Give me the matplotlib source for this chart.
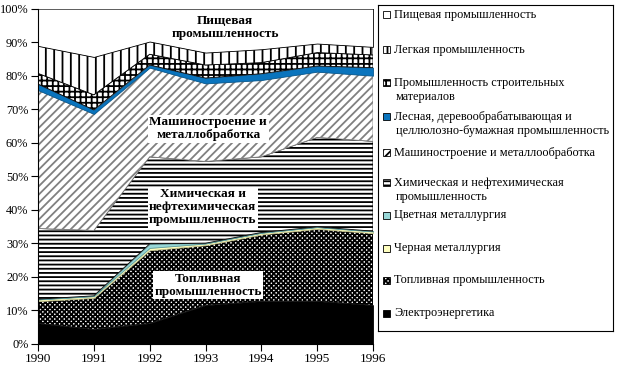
import matplotlib
matplotlib.use("Agg")
import matplotlib.pyplot as plt
from matplotlib.patches import Rectangle
import numpy as np

plt.rcParams['font.family'] = ['Liberation Serif', 'DejaVu Serif']
plt.rcParams['hatch.linewidth'] = 1.3

# Годы и доли отраслей (% от общего объема)
years = [1990, 1991, 1992, 1993, 1994, 1995, 1996]
electro = [6.1, 4.3, 6.1, 11.5, 12.7, 12.7, 11.5]
fuel = [6.6, 9.4, 21.8, 17.9, 19.9, 21.6, 21.5]
ferrous = [0.5, 0.5, 0.7, 0.5, 0.5, 0.5, 0.5]
nonferrous = [0.1, 0.1, 1.2, 0.1, 0.1, 0.1, 0.1]
chemical = [21.1, 19.5, 26.0, 24.4, 22.6, 26.7, 26.8]
machine = [41.3, 34.8, 26.6, 23.3, 22.9, 19.6, 19.6]
forest = [1.8, 1.2, 0.8, 1.6, 1.9, 1.7, 2.4]
building = [3.2, 4.5, 3.2, 3.9, 3.3, 4.0, 3.8]
light = [8.2, 11.3, 3.8, 3.7, 4.0, 2.7, 2.4]
food = [11.1, 14.4, 9.8, 13.1, 12.1, 10.4, 11.4]

series = [electro, fuel, ferrous, nonferrous, chemical, machine, forest, building, light, food]
labels = ["Электроэнергетика", "Топливная промышленность", "Черная металлургия",
          "Цветная металлургия", "Химическая и нефтехимическая\nпромышленность",
          "Машиностроение и металлообработка", "Лесная, деревообрабатывающая и\nцеллюлозно-бумажная промышленность",
          "Промышленность строительных\nматериалов", "Легкая промышленность", "Пищевая промышленность"]
# (facecolor, hatch, hatch/edge color)
styles = [("black", None, "black"),
          ("white", "xxxxxxx", "black"),
          ("#ffffc0", None, "#c8c890"),
          ("#99d8d8", None, "#60a0a0"),
          ("white", "----", "black"),
          ("white", "////", "#808080"),
          ("#0a74bd", None, "#0a5a90"),
          ("white", "+++", "black"),
          ("white", "||", "black"),
          ("white", None, "black")]

fig = plt.figure(figsize=(6.18, 3.68), dpi=100)
ax = fig.add_axes([38/618, 24.3/368, 335/618, 335/368])

x = np.array(years)
bottom = np.zeros(len(years))
for vals, (fc, hatch, ec) in zip(series, styles):
    top = bottom + np.array(vals)
    ax.fill_between(x, bottom, top, facecolor=fc, hatch=hatch, edgecolor=ec, linewidth=0.6)
    bottom = top

ax.set_xlim(1990, 1996)
ax.set_ylim(0, 100)
ax.set_yticks(range(0, 101, 10))
ax.set_yticklabels([f"{v}%" for v in range(0, 101, 10)])
ax.set_xticks(years)
ax.tick_params(axis="y", labelsize=8.8, direction="out", length=5, width=0.8, pad=2)
ax.tick_params(axis="x", labelsize=9.5, direction="out", length=5, width=0.8, pad=2)
ax.spines["top"].set_visible(False)
ax.spines["right"].set_visible(False)

box = dict(facecolor="white", edgecolor="none", pad=1)
ax.text(1993.35, 94.5, "Пищевая\nпромышленность", ha="center", va="center",
        fontsize=9.5, fontweight="bold", linespacing=1.1)
ax.text(1993.05, 64.2, "Машиностроение и\nметаллобработка", ha="center", va="center",
        fontsize=9.5, fontweight="bold", linespacing=1.1, bbox=box)
ax.text(1992.95, 40.7, "Химическая и\nнефтехимическая\nпромышленность", ha="center", va="center",
        fontsize=9.5, fontweight="bold", linespacing=1.1, bbox=box)
ax.text(1993.05, 17.5, "Топливная\nпромышленность", ha="center", va="center",
        fontsize=9.5, fontweight="bold", linespacing=1.1, bbox=box)

# Легенда, в пикселях
lax = fig.add_axes([378/618, 37/368, 235/618, 326/368])
lax.set_xlim(0, 235)
lax.set_ylim(326, 0)
lax.set_xticks([])
lax.set_yticks([])
for s in lax.spines.values():
    s.set_linewidth(0.8)
entry_y = [10, 45, 78, 112, 148, 178, 210, 243, 275, 308]
order = list(range(len(series)))[::-1]
for yy, i in zip(entry_y, order):
    fc, hatch, ec = styles[i]
    lax.add_patch(Rectangle((5, yy - 3.5), 7, 7, facecolor=fc, hatch=hatch,
                            edgecolor="black", linewidth=0.6))
    for k, line in enumerate(labels[i].split("\n")):
        lax.text(16 + 2 * k, yy + 14 * k, line, ha="left", va="center", fontsize=8.8)

fig.savefig("out.png", dpi=100)
